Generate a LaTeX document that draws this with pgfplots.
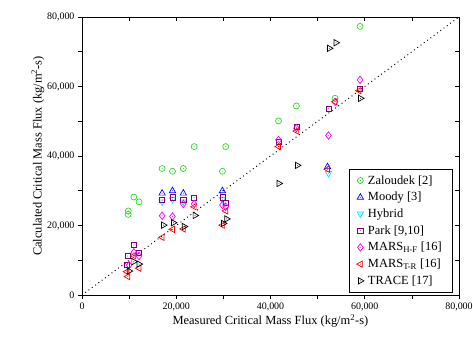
\documentclass[border=0pt]{standalone}
\usepackage{pgfplots}
\pgfplotsset{compat=1.18}
\usepackage{fontspec}
\setmainfont{Liberation Serif}
\definecolor{cgreen}{RGB}{40,220,40}
\definecolor{cblue}{RGB}{0,0,255}
\definecolor{ccyan}{RGB}{0,230,255}
\definecolor{cpurple}{RGB}{128,0,128}
\definecolor{cmag}{RGB}{255,0,255}
\definecolor{cred}{RGB}{255,0,0}
\pgfdeclareplotmark{odot}{%
  \pgfpathcircle{\pgfpointorigin}{\pgfplotmarksize}\pgfusepathqstroke
  \pgfpathcircle{\pgfpointorigin}{0.45pt}\pgfusepathqfill}
\pgfdeclareplotmark{sqdot}{%
  \pgfpathrectangle{\pgfpoint{-0.85\pgfplotmarksize}{-0.85\pgfplotmarksize}}{\pgfpoint{1.7\pgfplotmarksize}{1.7\pgfplotmarksize}}\pgfusepathqstroke
  \pgfpathcircle{\pgfpointorigin}{0.45pt}\pgfusepathqfill}
\pgfdeclareplotmark{tridot}{%
  \pgfpathmoveto{\pgfpoint{0pt}{1.2\pgfplotmarksize}}%
  \pgfpathlineto{\pgfpoint{-1.05\pgfplotmarksize}{-0.65\pgfplotmarksize}}%
  \pgfpathlineto{\pgfpoint{1.05\pgfplotmarksize}{-0.65\pgfplotmarksize}}%
  \pgfpathclose\pgfusepathqstroke
  \pgfpathcircle{\pgfpointorigin}{0.45pt}\pgfusepathqfill}
\pgfdeclareplotmark{diadot}{%
  \pgfpathmoveto{\pgfpoint{0pt}{1.25\pgfplotmarksize}}%
  \pgfpathlineto{\pgfpoint{-0.95\pgfplotmarksize}{0pt}}%
  \pgfpathlineto{\pgfpoint{0pt}{-1.25\pgfplotmarksize}}%
  \pgfpathlineto{\pgfpoint{0.95\pgfplotmarksize}{0pt}}%
  \pgfpathclose\pgfusepathqstroke
  \pgfpathcircle{\pgfpointorigin}{0.45pt}\pgfusepathqfill}
\begin{document}
\begin{tikzpicture}
\useasboundingbox (-82bp,-47bp) rectangle (391bp,295bp);
\begin{axis}[
  at={(0,0)}, anchor=south west,
  scale only axis, width=377bp, height=278bp,
  xmin=0, xmax=80000, ymin=0, ymax=80000,
  xtick={0,20000,40000,60000,80000},
  ytick={0,20000,40000,60000,80000},
  minor xtick={10000,30000,50000,70000},
  minor ytick={10000,30000,50000,70000},
  xtick pos=left, ytick pos=left,
  tick align=outside,
  major tick length=4bp, minor tick length=4bp,
  tick style={black, line width=0.6pt},
  axis line style={line width=0.8pt},
  scaled ticks=false,
  /pgf/number format/1000 sep={,},
  /pgf/number format/assume math mode=true,
  ticklabel style={font=\fontsize{10}{12}\selectfont},
  xlabel={Measured Critical Mass Flux (kg/m\textsuperscript{2}-s)},
  ylabel={Calculated Critical Mass Flux (kg/m\textsuperscript{2}-s)},
  label style={font=\fontsize{12.5}{14}\selectfont},
  xlabel style={yshift=3bp},
  ylabel style={yshift=-4bp},
  mark size=3bp,
  legend style={at={(rel axis cs:0.984,0.01)}, anchor=south east,
    font=\fontsize{12.5}{14}\selectfont, draw=black, line width=0.6pt,
    row sep=2.6bp, inner xsep=7bp, inner ysep=4bp,
    nodes={inner xsep=4bp},
    cells={anchor=west}},
  legend cell align=left,
]
\addplot[black, line width=1pt, dash pattern=on 0.9pt off 3.2pt, forget plot] coordinates {(0,0) (80000,80000)};
\addplot[only marks, mark=odot, cgreen, mark options={line width=0.7pt}] coordinates {
(9830,24200) (9800,23200) (11000,28200) (12100,26800) (17000,36400) (19200,35600)
(21500,36400) (23800,42700) (29800,35600) (30500,42700) (59000,77300) (53700,56600)
(45500,54400) (41700,50100)};
\addlegendentry{Zaloudek [2]}
\addplot[only marks, mark=tridot, cblue, mark options={line width=0.7pt}] coordinates {
(17000,29300) (19200,30000) (21500,29300) (29800,30000) (52100,36900)};
\addlegendentry{Moody [3]}
\addplot[only marks, mark=tridot, ccyan, mark options={line width=0.7pt, rotate=180}] coordinates {
(17000,26800) (19200,27500) (21500,26800) (29800,27500) (52300,35000)};
\addlegendentry{Hybrid}
\addplot[only marks, mark=sqdot, cpurple, mark options={line width=0.7pt}] coordinates {
(11000,14400) (9700,11200) (12100,12200) (9600,8700) (17000,27300) (19200,28100)
(21500,27300) (23800,28000) (29800,28100) (30500,26400) (52300,53600) (59000,59200)
(45500,48300) (41700,44100)};
\addlegendentry{Park [9,10]}
\addplot[only marks, mark=diadot, cmag, mark options={line width=0.7pt}] coordinates {
(11000,12300) (12100,11200) (10000,8600) (17000,22800) (19200,22600) (21500,26200)
(23800,26200) (29800,25900) (30500,25400) (41700,44600) (45500,48000) (52300,45900)
(53700,55600) (59000,61900)};
\addlegendentry{MARS\textsubscript{H-F} [16]}
\addplot[only marks, mark=tridot, cred, mark options={line width=0.7pt, rotate=90}] coordinates {
(9700,5300) (9500,6700) (12100,7700) (11000,11300) (17000,16600) (19200,18900) (21500,19000)
(23800,25400) (29800,20100) (30500,24200) (41700,42700) (45500,47200)
(53700,55600) (58800,58800) (52100,36200)};
\addlegendentry{MARS\textsubscript{T-R} [16]}
\addplot[only marks, mark=tridot, black, mark options={line width=0.7pt, rotate=-90}] coordinates {
(10000,6900) (11000,9600) (12100,8900) (17300,20100) (19400,20800) (21700,19700)
(24000,22900) (30000,20600) (30700,21900) (45700,37300) (41800,32100) (52500,71000)
(53900,72600) (59100,56600)};
\addlegendentry{TRACE [17]}
\end{axis}
\begin{axis}[
  at={(0,0)}, anchor=south west,
  scale only axis, width=377bp, height=278bp,
  xmin=0, xmax=80000, ymin=0, ymax=80000,
  scaled ticks=false,
  xtick={0,10000,...,80000}, ytick={0,10000,...,80000},
  xticklabels={}, yticklabels={},
  xtick pos=right, ytick pos=right,
  tick align=inside,
  major tick length=4bp,
  tick style={black, line width=0.6pt},
  axis line style={line width=0.8pt},
]
\end{axis}
\end{tikzpicture}
\end{document}
